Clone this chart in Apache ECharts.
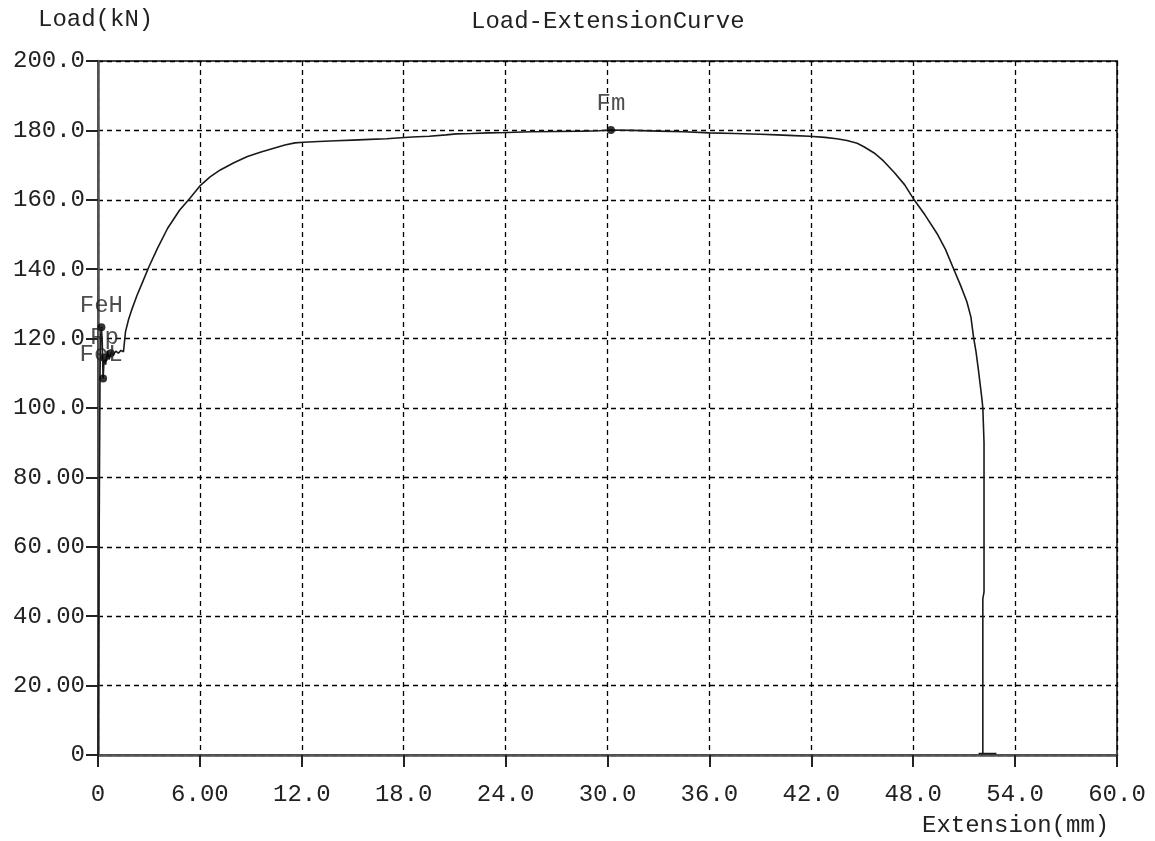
<!DOCTYPE html>
<html>
<head>
<meta charset="utf-8">
<script src="https://cdn.jsdelivr.net/npm/echarts@6/dist/echarts.min.js"></script>
<style>
html,body{margin:0;padding:0;background:#fff;}
#c{width:1155px;height:841px;}
</style>
</head>
<body>
<div id="c"></div>
<script>
// ---- data ----
var extension = [0, 0.03, 0.06, 0.09, 0.12, 0.16, 0.20, 0.25, 0.30, 0.36, 0.45, 0.55, 0.65, 0.78, 0.9, 1.05, 1.2, 1.35, 1.5, 1.62, 1.8, 2.0, 2.3, 2.6, 3.0, 3.5, 4.1, 4.8, 5.4, 6.0, 6.6, 7.2, 8.0, 8.8, 9.6, 10.3, 11.0, 11.6, 12.1, 13.0, 14.0, 15.0, 16.0, 17.0, 17.6, 18.5, 19.5, 20.5, 21.1, 22.0, 23.0, 24.1, 25.5, 27.0, 28.5, 29.5, 30.2, 31.5, 33.0, 34.5, 36.0, 37.5, 39.0, 40.0, 41.0, 41.9, 42.8, 43.5, 44.1, 44.7, 45.1, 45.7, 46.25, 46.9, 47.5, 48.0, 48.7, 49.4, 49.9, 50.37, 50.8, 51.16, 51.4, 51.55, 51.7, 51.84, 51.95, 52.05, 52.1, 52.17, 52.17, 52.1, 52.1, 51.85, 52.9];
var load = [0, 25, 55, 85, 110, 121, 123.3, 119, 108.5, 114, 112.5, 116.5, 114, 116, 115.3, 116.4, 115.8, 116.6, 116.2, 122, 125.5, 128.5, 132.5, 136, 140.7, 146, 151.8, 157, 160.4, 164, 166.6, 168.6, 170.7, 172.5, 173.8, 174.8, 175.8, 176.4, 176.6, 176.8, 177.0, 177.2, 177.4, 177.6, 177.8, 178.1, 178.3, 178.7, 179.0, 179.1, 179.3, 179.4, 179.6, 179.7, 179.8, 179.9, 180.1, 180.0, 179.8, 179.6, 179.3, 179.1, 178.9, 178.7, 178.5, 178.3, 178.0, 177.6, 177.1, 176.3, 175.3, 173.5, 171.2, 167.8, 164.3, 160.4, 155.6, 150.3, 145.7, 140.2, 135.2, 130.6, 126.2, 120.5, 116.2, 111, 106.5, 102.5, 100, 90, 47, 45, 0.4, 0.4, 0.4];

var markExt = [0.2, 0.38, 0.3, 0.75, 30.2];
var markLoad = [123.3, 114.5, 108.5, 115.8, 180.1];
var markNames = ["FeH", "Fp", "FeL", "", "Fm"];

var xTickLabels = ["0", "6.00", "12.0", "18.0", "24.0", "30.0", "36.0", "42.0", "48.0", "54.0", "60.0"];
var yTickLabels = ["0", "20.00", "40.00", "60.00", "80.00", "100.0", "120.0", "140.0", "160.0", "180.0", "200.0"];

// ---- chart ----
var FONT = "Liberation Mono";
var TXT = "#222";
var curve = extension.map(function (x, i) { return [x, load[i]]; });
var labelOffsets = { "FeH": [0, -22], "Fp": [0, -20], "FeL": [-2, -24], "": [0, 0], "Fm": [0, -26] };
var marks = markExt.map(function (x, i) {
  var n = markNames[i];
  return {
    value: [x, markLoad[i]],
    name: n,
    label: { show: n !== "", formatter: n, offset: labelOffsets[n], position: "inside" }
  };
});

var chart = echarts.init(document.getElementById('c'), null, { renderer: 'canvas' });
chart.setOption({
  animation: false,
  backgroundColor: '#fff',
  title: {
    text: 'Load-ExtensionCurve',
    left: 466, top: 5,
    textStyle: { fontFamily: FONT, fontSize: 24, fontWeight: 'normal', color: TXT }
  },
  graphic: [
    { type: 'text', left: 38, top: 8, style: { text: 'Load(kN)', font: '24px "Liberation Mono"', fill: TXT } },
    { type: 'text', left: 922, top: 814, style: { text: 'Extension(mm)', font: '24px "Liberation Mono"', fill: TXT } }
  ],
  grid: {
    left: 98, right: 38, top: 61, bottom: 86,
    show: true, borderColor: '#444', borderWidth: 2,
    containLabel: false, outerBoundsMode: 'none'
  },
  xAxis: {
    type: 'value', min: 0, max: 60, interval: 6,
    axisLine: { show: true, onZero: false, lineStyle: { color: '#555', width: 2.5 } },
    axisTick: { show: true, length: 12, lineStyle: { color: '#222', width: 2 } },
    axisLabel: {
      margin: 28, fontFamily: FONT, fontSize: 24, color: TXT,
      showMinLabel: true, showMaxLabel: true,
      formatter: function (v) { return xTickLabels[Math.round(v / 6)]; }
    },
    splitLine: { show: true, lineStyle: { color: '#000', width: 1.3, type: [5, 4] } }
  },
  yAxis: {
    type: 'value', min: 0, max: 200, interval: 20,
    axisLine: { show: true, onZero: false, lineStyle: { color: '#555', width: 2.5 } },
    axisTick: { show: true, length: 12, lineStyle: { color: '#222', width: 2 } },
    axisLabel: {
      margin: 13, fontFamily: FONT, fontSize: 24, color: TXT,
      showMinLabel: true, showMaxLabel: true,
      formatter: function (v) { return yTickLabels[Math.round(v / 20)]; }
    },
    splitLine: { show: true, lineStyle: { color: '#000', width: 1.3, type: [5, 4] } }
  },
  series: [
    {
      type: 'line', data: curve, showSymbol: false, symbol: 'none',
      lineStyle: { color: '#1a1a1a', width: 1.6 },
      z: 3
    },
    {
      type: 'scatter', data: marks, symbol: 'circle', symbolSize: 8,
      itemStyle: { color: '#000' },
      label: { fontFamily: FONT, fontSize: 24, color: TXT },
      z: 4
    }
  ]
});
</script>
</body>
</html>
